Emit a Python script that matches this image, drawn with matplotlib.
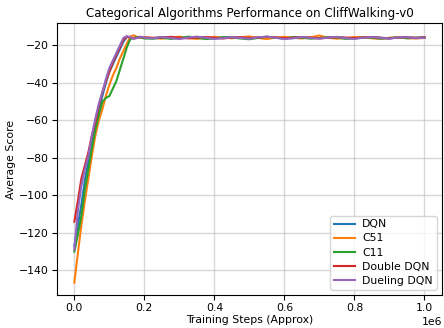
import matplotlib
matplotlib.use("Agg")
from matplotlib import pyplot as plt

steps = [0, 10000, 20000, 30000, 40000, 50000, 60000, 70000, 80000, 90000,
         100000, 110000, 120000, 130000, 140000, 150000, 160000, 170000, 180000, 190000,
         200000, 225000, 250000, 275000, 300000, 325000, 350000, 375000, 400000, 425000,
         450000, 475000, 500000, 525000, 550000, 575000, 600000, 625000, 650000, 675000,
         700000, 725000, 750000, 775000, 800000, 825000, 850000, 875000, 900000, 925000,
         950000, 975000, 1000000]

dqn = [-127, -116, -105, -92, -82, -71, -62, -54, -47, -40,
       -34, -30, -26, -22, -18, -15.5, -15.8, -16.2, -15.6, -15.4,
       -15.9, -16.1, -15.6, -15.8, -16.3, -15.7, -15.5, -16.0, -16.4, -15.8,
       -15.6, -15.9, -16.2, -15.7, -15.4, -15.9, -16.3, -16.0, -15.6, -15.8,
       -16.1, -15.7, -15.5, -16.0, -16.2, -15.8, -15.6, -15.9, -16.3, -15.7,
       -15.8, -16.0, -15.6]

c51 = [-146.5, -131, -116, -103, -91, -79, -68, -60, -54, -47,
       -41, -36, -32, -27, -23, -19, -15.2, -14.6, -15.6, -16.0,
       -15.7, -15.9, -16.4, -15.8, -15.3, -16.1, -16.5, -15.9, -15.4, -15.8,
       -16.2, -15.6, -15.2, -16.0, -16.6, -15.8, -15.4, -15.9, -16.3, -15.6,
       -14.7, -15.9, -16.4, -16.0, -15.5, -15.7, -16.2, -16.5, -15.9, -15.6,
       -16.1, -16.3, -16.0]

c11 = [-130, -121, -111, -97, -86, -75, -65, -57, -50, -48,
       -47, -43, -39, -33, -27, -21, -16.5, -16.0, -15.5, -15.8,
       -16.3, -16.4, -15.9, -16.5, -16.0, -15.3, -15.9, -16.6, -16.2, -15.5,
       -15.8, -16.3, -16.7, -16.0, -15.4, -15.9, -16.2, -15.5, -15.9, -16.4,
       -16.0, -15.6, -15.8, -16.5, -16.2, -15.7, -15.9, -16.4, -16.0, -15.7,
       -16.2, -15.9, -15.8]

double_dqn = [-114, -103, -91, -84, -77, -68, -61, -52, -45, -39,
              -34, -29, -25, -21, -17, -15.3, -15.8, -16.3, -15.9, -15.5,
              -15.7, -16.0, -15.7, -15.4, -15.9, -16.2, -15.8, -15.5, -15.9, -16.3,
              -15.7, -15.6, -16.0, -15.8, -15.4, -15.7, -16.1, -15.9, -15.5, -15.8,
              -16.2, -15.9, -15.6, -15.8, -16.1, -15.7, -15.5, -15.9, -16.2, -15.8,
              -15.6, -15.9, -15.7]

dueling_dqn = [-129, -108, -95, -86, -79, -68, -59, -51, -45, -38,
               -32, -28, -24, -20, -16, -15.0, -15.6, -16.4, -16.0, -15.4,
               -15.8, -16.2, -15.5, -16.0, -16.6, -15.8, -15.3, -15.9, -16.5, -16.1,
               -15.6, -16.0, -16.4, -15.7, -15.3, -15.9, -16.6, -16.2, -15.5, -16.0,
               -16.4, -15.8, -15.4, -16.1, -16.5, -15.9, -15.5, -16.0, -16.3, -15.7,
               -15.6, -16.1, -15.9]

series = [("DQN", dqn), ("C51", c51), ("C11", c11),
          ("Double DQN", double_dqn), ("Dueling DQN", dueling_dqn)]

fig, ax = plt.subplots(figsize=(4.44, 3.28), dpi=100)
for name, vals in series:
    ax.plot(steps, vals, label=name)

ax.set_title("Categorical Algorithms Performance on CliffWalking-v0", fontsize=8.6, pad=4)
ax.set_xlabel("Training Steps (Approx)", fontsize=7.8, labelpad=2)
ax.set_ylabel("Average Score", fontsize=7.8, labelpad=2)
ax.tick_params(labelsize=7.8, pad=2)
ax.xaxis.get_offset_text().set_fontsize(7.8)
ax.grid(True, alpha=0.5, linewidth=1.0)
ax.legend(loc="lower right", fontsize=7.8, handlelength=1.9, handletextpad=0.7,
          labelspacing=0.38, borderpad=0.35)

plt.subplots_adjust(left=0.128, right=0.9955, top=0.930, bottom=0.1006)
plt.savefig("out.png")
